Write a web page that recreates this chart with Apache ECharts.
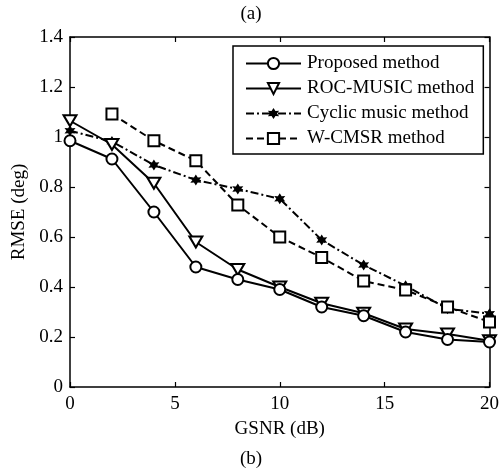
<!DOCTYPE html>
<html>
<head>
<meta charset="utf-8">
<script src="https://cdn.jsdelivr.net/npm/echarts@6/dist/echarts.min.js"></script>
<style>
  html, body { margin: 0; padding: 0; background: #fff; }
  #chart { width: 502px; height: 469px; }
</style>
</head>
<body>
<div id="chart"></div>
<script>
// GSNR values (dB) shared by every curve
const snr = [0, 2, 4, 6, 8, 10, 12, 14, 16, 18, 20];

// RMSE (deg) per method
const proposed = [0.985, 0.912, 0.70, 0.48, 0.43, 0.39, 0.32, 0.285, 0.22, 0.19, 0.18];
const rocMusic = [1.065, 0.97, 0.815, 0.58, 0.47, 0.40, 0.335, 0.295, 0.232, 0.212, 0.185];
const cyclicMusic = [1.025, 0.982, 0.888, 0.828, 0.792, 0.753, 0.588, 0.488, 0.405, 0.313, 0.293];
const wcmsr = [null, 1.092, 0.985, 0.905, 0.728, 0.60, 0.518, 0.424, 0.388, 0.32, 0.26];

// Series names and axis ticks
const seriesNames = ['Proposed method', 'ROC-MUSIC method', 'Cyclic music method', 'W-CMSR method'];
const xTicks = [0, 5, 10, 15, 20];
const yTicks = [0, 0.2, 0.4, 0.6, 0.8, 1.0, 1.2, 1.4];

const FONT = '"Liberation Serif", "Times New Roman", serif';
const triangleDown = 'path://M0,0 L12,0 L6,10 Z';
const star6 = 'path://M0,-10 L3,-4.6 L8.66,-5 L5.4,0 L8.66,5 L3,4.6 L0,10 L-3,4.6 L-8.66,5 L-5.4,0 L-8.66,-5 L-3,-4.6 Z';

const pairs = (ys) => snr.map((x, i) => [x, ys[i]]).filter(p => p[1] !== null);

const hollow = { color: '#fff', borderColor: '#000', borderWidth: 2 };

const chart = echarts.init(document.getElementById('chart'), null, { renderer: 'canvas' });

const axisCommon = {
  axisLine: { show: true, onZero: false, lineStyle: { color: '#000', width: 1.5 } },
  axisTick: { show: true, inside: true, length: 5, lineStyle: { color: '#000', width: 1.2 } },
  splitLine: { show: false }
};

chart.setOption({
  animation: false,
  backgroundColor: '#fff',
  textStyle: { fontFamily: FONT },
  grid: { left: 70, right: 11, top: 37, bottom: 82, containLabel: false },
  graphic: [
    { type: 'text', left: 'center', top: 5, style: { text: '(a)', font: '19px ' + FONT, fill: '#000' }, x: 18 },
    { type: 'text', left: 'center', top: 450, style: { text: '(b)', font: '19px ' + FONT, fill: '#000' }, x: 18 }
  ],
  legend: {
    data: seriesNames,
    orient: 'vertical',
    left: 233,
    top: 46,
    padding: [8, 9, 6, 12],
    itemWidth: 55,
    itemHeight: 14,
    itemGap: 6,
    backgroundColor: '#fff',
    borderColor: '#000',
    borderWidth: 1.5,
    borderRadius: 0,
    textStyle: { fontFamily: FONT, fontSize: 19, color: '#000', lineHeight: 19, padding: [0, 0, 0, 1] }
  },
  xAxis: [
    Object.assign({}, axisCommon, {
      type: 'value',
      min: xTicks[0],
      max: xTicks[xTicks.length - 1],
      interval: xTicks[1] - xTicks[0],
      position: 'bottom',
      name: 'GSNR (dB)',
      nameLocation: 'middle',
      nameGap: 33,
      nameTextStyle: { fontFamily: FONT, fontSize: 19, color: '#000' },
      axisLabel: { fontFamily: FONT, fontSize: 19, color: '#000', margin: 8 }
    }),
    Object.assign({}, axisCommon, {
      type: 'value',
      min: xTicks[0],
      max: xTicks[xTicks.length - 1],
      interval: xTicks[1] - xTicks[0],
      position: 'top',
      axisLabel: { show: false }
    })
  ],
  yAxis: [
    Object.assign({}, axisCommon, {
      type: 'value',
      min: yTicks[0],
      max: yTicks[yTicks.length - 1],
      interval: 0.2,
      position: 'left',
      name: 'RMSE (deg)',
      nameLocation: 'middle',
      nameRotate: 90,
      nameGap: 38,
      nameTextStyle: { fontFamily: FONT, fontSize: 19, color: '#000' },
      axisLabel: { fontFamily: FONT, fontSize: 19, color: '#000', margin: 7 }
    }),
    Object.assign({}, axisCommon, {
      type: 'value',
      min: yTicks[0],
      max: yTicks[yTicks.length - 1],
      interval: 0.2,
      position: 'right',
      axisLabel: { show: false }
    })
  ],
  series: [
    {
      name: seriesNames[0], type: 'line', data: pairs(proposed),
      symbol: 'circle', symbolSize: 11, itemStyle: hollow,
      lineStyle: { color: '#000', width: 2, type: 'solid' }, z: 4
    },
    {
      name: seriesNames[1], type: 'line', data: pairs(rocMusic),
      symbol: triangleDown, symbolSize: [13, 11], itemStyle: hollow,
      lineStyle: { color: '#000', width: 2, type: 'solid' }, z: 3
    },
    {
      name: seriesNames[2], type: 'line', data: pairs(cyclicMusic),
      symbol: star6, symbolSize: 11, itemStyle: { color: '#000', borderWidth: 0 },
      lineStyle: { color: '#000', width: 2, type: [8, 3, 2, 3] }, z: 2
    },
    {
      name: seriesNames[3], type: 'line', data: pairs(wcmsr),
      symbol: 'rect', symbolSize: 11, itemStyle: hollow,
      lineStyle: { color: '#000', width: 2, type: [7, 4] }, z: 2
    }
  ]
});
</script>
</body>
</html>
